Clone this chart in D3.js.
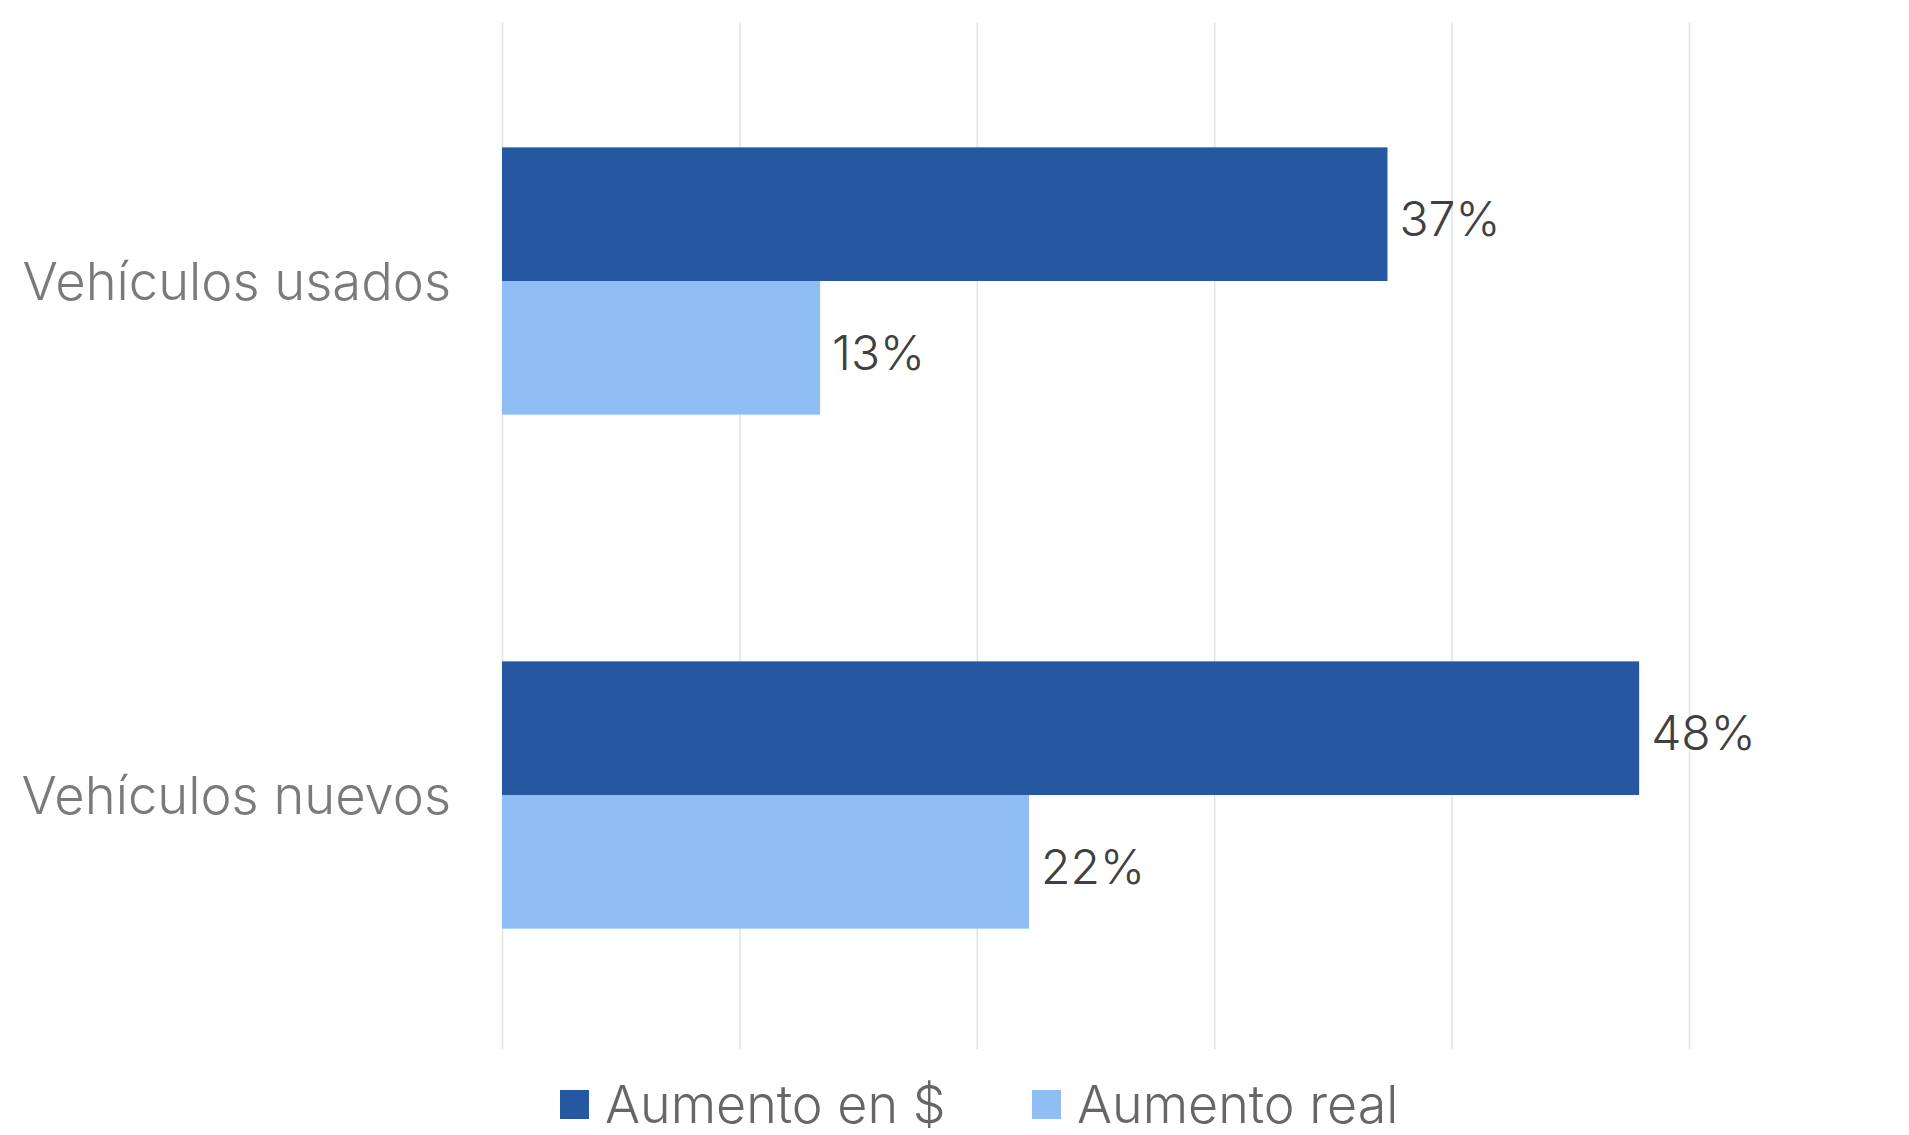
<!DOCTYPE html>
<html>
<head>
<meta charset="utf-8">
<script src="https://cdn.jsdelivr.net/npm/d3@7"></script>
<style>
	html, body { margin: 0; padding: 0; background: #fff; }
	svg { display: block; }
	text { font-family: "Inter", "Lato", sans-serif; font-weight: 300; }
</style>
</head>
<body>
<svg id="chart" width="1909" height="1135"></svg>
<script>
// categories, series and values
const categories = ["Vehículos usados", "Vehículos nuevos"];
const series = ["Aumento en $", "Aumento real"];
const aumento_pesos = [37.3, 47.9];
const aumento_real = [13.4, 22.2];
const x_ticks = [0, 10, 20, 30, 40, 50];
const colors = ["#2657a1", "#8fbef5"];

const svg = d3.select("#chart");

const plot_left = 502, plot_right = 1689, plot_top = 24, plot_bottom = 1052;

const x = d3.scaleLinear().domain([0, 50]).range([plot_left, plot_right]);
const y0 = d3.scaleBand().domain(categories).range([plot_top, plot_bottom]).padding(0);
const y1 = d3.scaleBand().domain(series)
	.range([y0.step() * 0.24, y0.step() * 0.76]).padding(0);

// rows: one per bar
const rows = [];
categories.forEach((c, i) => {
	rows.push({cat: c, s: series[0], v: aumento_pesos[i]});
	rows.push({cat: c, s: series[1], v: aumento_real[i]});
});

// vertical gridlines
svg.append("g")
	.attr("transform", "translate(0," + (plot_bottom - 3) + ")")
	.call(d3.axisBottom(x).tickValues(x_ticks).tickSize(-(plot_bottom - 3 - 22)).tickFormat(""))
	.call(g => g.select(".domain").remove())
	.call(g => g.selectAll(".tick line").attr("stroke", "#e3e3e3").attr("stroke-width", 1.5));

const color = d3.scaleOrdinal().domain(series).range(colors);

svg.append("g").selectAll("rect")
	.data(rows)
	.enter().append("rect")
	.attr("x", x(0))
	.attr("y", d => y0(d.cat) + y1(d.s))
	.attr("width", d => x(d.v) - x(0))
	.attr("height", y1.bandwidth())
	.attr("fill", d => color(d.s));

// value labels
svg.append("g").selectAll("text")
	.data(rows)
	.enter().append("text")
	.attr("x", d => x(d.v) + 12)
	.attr("y", d => y0(d.cat) + y1(d.s) + y1.bandwidth() / 2 + 5)
	.attr("dy", "0.36em")
	.attr("font-size", 48)
	.attr("fill", "#404040")
	.text(d => Math.round(d.v) + "%");

// category labels
svg.append("g").selectAll("text")
	.data(categories)
	.enter().append("text")
	.attr("x", 451)
	.attr("y", d => y0(d) + y0.bandwidth() / 2)
	.attr("dy", "0.36em")
	.attr("text-anchor", "end")
	.attr("font-size", 52.5)
	.attr("fill", "#7a7a7a")
	.text(d => d);

// legend
const legend_x = [560, 1032];
const legend = svg.append("g").selectAll("g")
	.data(series)
	.enter().append("g")
	.attr("transform", (d, i) => "translate(" + legend_x[i] + ",1104)");

legend.append("rect")
	.attr("x", 0).attr("y", -14)
	.attr("width", 29).attr("height", 29)
	.attr("fill", d => color(d));

legend.append("text")
	.attr("x", 45)
	.attr("dy", "0.36em")
	.attr("font-size", 52)
	.attr("fill", "#666")
	.text(d => d);
</script>
</body>
</html>
